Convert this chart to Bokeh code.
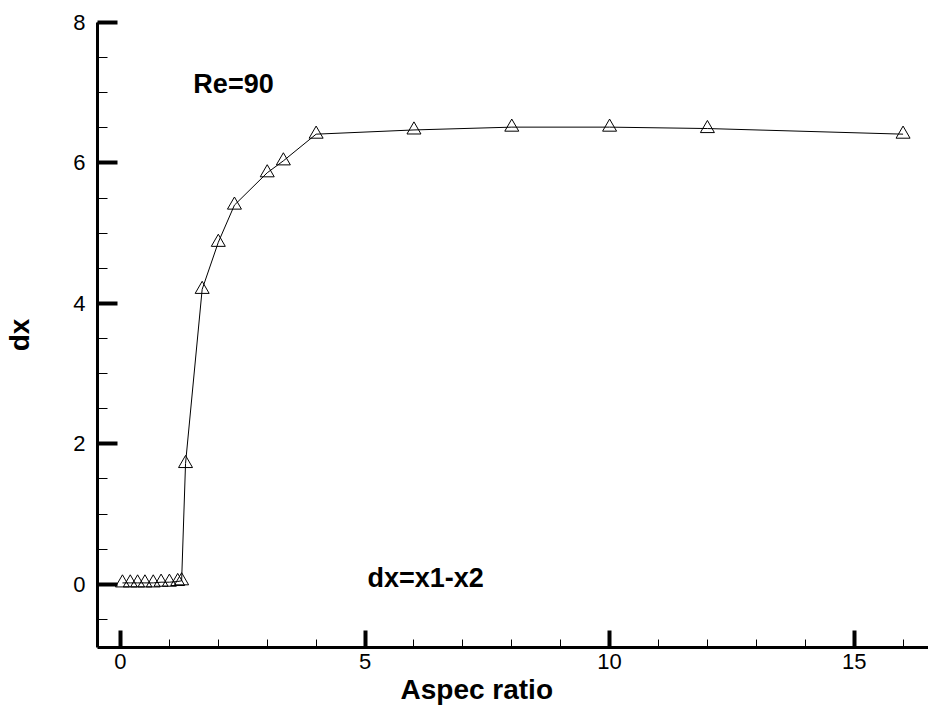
from bokeh.plotting import figure
from bokeh.models import Range1d, Label, FixedTicker, Title
from bokeh.embed import file_html
from bokeh.resources import INLINE

aspect_ratio = [0.04, 0.2, 0.35, 0.5, 0.67, 0.83, 1.0, 1.17, 1.25,
                1.33, 1.67, 2.0, 2.33, 3.0, 3.33, 4.0, 6.0, 8.0, 10.0, 12.0, 16.0]
dx = [0.02, 0.02, 0.02, 0.02, 0.02, 0.03, 0.03, 0.04, 0.05,
      1.72, 4.2, 4.87, 5.4, 5.86, 6.03, 6.41, 6.47, 6.51, 6.51, 6.49, 6.41]

x_ticks = [0, 5, 10, 15]
y_ticks = [0, 2, 4, 6, 8]
x_minor = [i for i in range(0, 17)]
y_minor = [i * 0.5 for i in range(-1, 17)]

FONT = "Liberation Sans"

p = figure(width=928, height=708, output_backend="svg", toolbar_location=None,
           x_range=Range1d(-0.47, 16.52), y_range=Range1d(-0.9, 8.0),
           min_border_left=97, min_border_right=0, min_border_top=22, min_border_bottom=61)
p.outline_line_color = None
p.xgrid.visible = False
p.ygrid.visible = False
p.background_fill_color = "white"
p.border_fill_color = "white"

p.line(aspect_ratio, dx, line_color="black", line_width=1)
p.scatter(aspect_ratio, dx, marker="triangle", size=14, fill_color=None,
          line_color="black", line_width=1)

for ax, ticks, minor in ((p.xaxis, x_ticks, x_minor), (p.yaxis, y_ticks, y_minor)):
    ax.ticker = FixedTicker(ticks=ticks, minor_ticks=minor)
    ax.axis_line_width = 3
    ax.axis_line_color = "black"
    ax.major_tick_line_width = 4
    ax.major_tick_line_color = "black"
    ax.minor_tick_line_width = 1
    ax.minor_tick_line_color = "black"
    ax.major_tick_out = 0
    ax.minor_tick_out = 0
    ax.major_label_text_font = FONT
    ax.major_label_text_font_size = "22px"
    ax.major_label_text_color = "black"
    ax.axis_label_text_font = FONT
    ax.axis_label_text_font_size = "28px"
    ax.axis_label_text_font_style = "bold"
    ax.axis_label_text_color = "black"

p.xaxis.major_tick_in = 17
p.xaxis.minor_tick_in = 8
p.yaxis.major_tick_in = 20
p.yaxis.minor_tick_in = 10
p.xaxis.major_label_standoff = 6
p.yaxis.major_label_standoff = 12
p.yaxis.axis_label = "dx"
p.yaxis.axis_label_standoff = 35

p.add_layout(Title(text="Aspec ratio", align="left", offset=303, standoff=0,
                   text_font=FONT, text_font_size="28px", text_font_style="bold",
                   text_color="black"), "below")

p.add_layout(Label(x=1.49, y=7.13, text="Re=90", text_font=FONT, text_font_size="27px",
                   text_font_style="bold", text_color="black", text_baseline="alphabetic"))
p.add_layout(Label(x=5.05, y=0.085, text="dx=x1-x2", text_font=FONT, text_font_size="27px",
                   text_font_style="bold", text_color="black", text_baseline="alphabetic"))

open("out.html", "w").write(file_html(p, INLINE))
